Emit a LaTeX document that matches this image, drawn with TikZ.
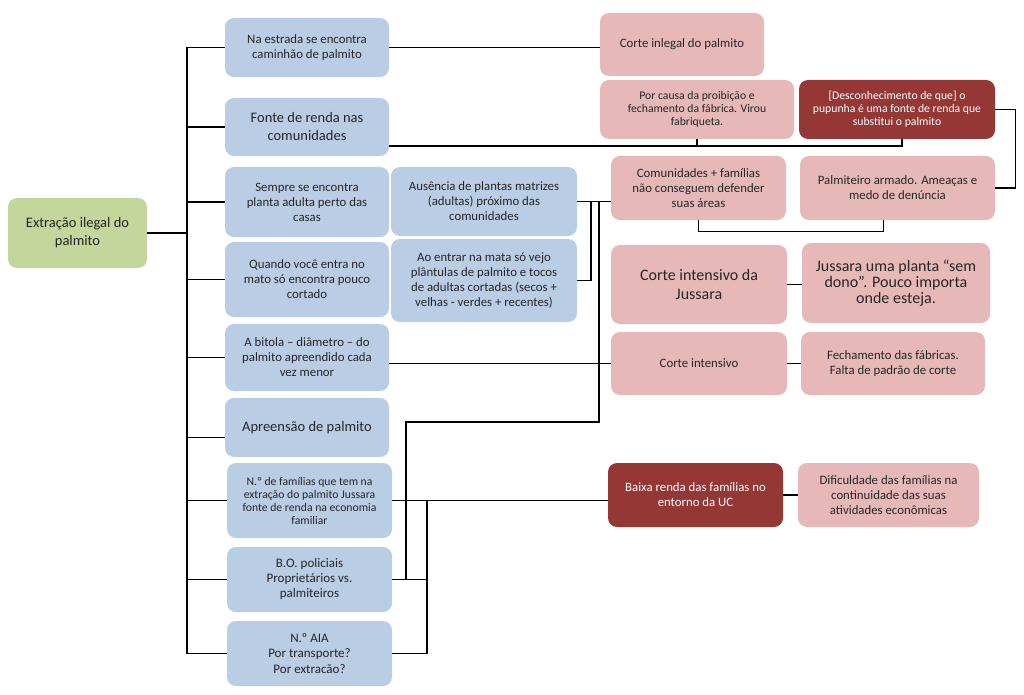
\documentclass[tikz,border=0pt]{standalone}
\usepackage{fontspec}
\setmainfont{Carlito}
\usetikzlibrary{positioning}
\definecolor{cmblue}{RGB}{185,205,229}
\definecolor{cmpink}{RGB}{230,185,184}
\definecolor{cmdark}{RGB}{149,55,53}
\definecolor{cmgreen}{RGB}{195,214,155}
\definecolor{cmtext}{RGB}{38,38,38}
\begin{document}
\begin{tikzpicture}[x=1pt,y=-1pt,
  box/.style={rounded corners=9pt,align=center,inner sep=2pt,text=cmtext,
    font=\fontsize{12.8}{15}\selectfont},
  wh/.style 2 args={minimum width=#1,minimum height=#2},
  bluebox/.style={box,fill=cmblue},
  pinkbox/.style={box,fill=cmpink},
  darkbox/.style={box,fill=cmdark,text=white},
  greenbox/.style={box,fill=cmgreen},
  bigtext/.style={font=\fontsize{14.5}{18}\selectfont},
  smalltext/.style={font=\fontsize{11.7}{13}\selectfont},
  link/.style={line width=1.3pt,black}]
  \useasboundingbox (0,0) rectangle (1024,695);

  \node[greenbox,bigtext,wh={139pt}{70pt}] (main) at (77.5,233) {Extração ilegal do\\palmito};

  \node[bluebox,wh={164pt}{59pt}] (b1) at (307,47.5) {Na estrada se encontra\\caminhão de palmito};
  \node[bluebox,bigtext,wh={164pt}{58pt}] (b2) at (307,127) {Fonte de renda nas\\comunidades};
  \node[bluebox,wh={164pt}{70pt}] (b3) at (307,202) {Sempre se encontra\\planta adulta perto das\\casas};
  \node[bluebox,wh={164pt}{75pt}] (b4) at (307,279.5) {Quando você entra no\\mato só encontra pouco\\cortado};
  \node[bluebox,wh={164pt}{67pt}] (b5) at (307,357.5) {A bitola – diâmetro – do\\palmito apreendido cada\\vez menor};
  \node[bluebox,bigtext,wh={164pt}{59pt}] (b6) at (307,427.5) {Apreensão de palmito};
  \node[bluebox,smalltext,wh={165pt}{75pt}] (b7) at (309.5,500.5) {N.º de famílias que tem na\\extração do palmito Jussara\\fonte de renda na economia\\familiar};
  \node[bluebox,font=\fontsize{13}{15}\selectfont,wh={165pt}{65pt}] (b8) at (309.5,579.5) {B.O. policiais\\Proprietários vs.\\palmiteiros};
  \node[bluebox,font=\fontsize{13}{15.5}\selectfont,wh={165pt}{65pt}] (b9) at (309.5,653.5) {N.º AIA\\Por transporte?\\Por extracão?};

  \node[bluebox,wh={186pt}{69pt}] (c1) at (484,201.5) {Ausência de plantas matrizes\\(adultas) próximo das\\comunidades};
  \node[bluebox,wh={186pt}{83pt}] (c2) at (484,280.5) {Ao entrar na mata só vejo\\plântulas de palmito e tocos\\de adultas cortadas (secos +\\velhas - verdes + recentes)};

  \node[pinkbox,wh={164pt}{63pt}] (r1) at (682,44.5) {Corte inlegal do palmito};
  \node[pinkbox,smalltext,wh={194pt}{59pt}] (r2) at (697,109.5) {Por causa da proibição e\\fechamento da fábrica. Virou\\fabriqueta.};
  \node[darkbox,smalltext,wh={196pt}{59pt}] (r3) at (897,109.5) {[Desconhecimento de que] o\\pupunha é uma fonte de renda que\\substitui o palmito};
  \node[pinkbox,wh={175pt}{64pt}] (r4) at (698.5,188) {Comunidades + famílias\\não conseguem defender\\suas áreas};
  \node[pinkbox,wh={195pt}{64pt}] (r5) at (897.5,188) {Palmiteiro armado. Ameaças e\\medo de denúncia};
  \node[pinkbox,font=\fontsize{16}{19}\selectfont,wh={176pt}{79pt}] (r6) at (699,284.5) {Corte intensivo da\\Jussara};
  \node[pinkbox,font=\fontsize{16}{16}\selectfont,wh={188pt}{80pt}] (r7) at (896,283) {Jussara uma planta “sem\\dono”. Pouco importa\\onde esteja.};
  \node[pinkbox,wh={176pt}{63pt}] (r8) at (699,363.5) {Corte intensivo};
  \node[pinkbox,wh={184pt}{63pt}] (r9) at (893,363.5) {Fechamento das fábricas.\\Falta de padrão de corte};
  \node[darkbox,wh={175pt}{64pt}] (r10) at (695.5,495) {Baixa renda das famílias no\\entorno da UC};
  \node[pinkbox,wh={181pt}{64pt}] (r11) at (888.5,495) {Dificuldade das famílias na\\continuidade das suas\\atividades econômicas};

  \coordinate (trunk) at (187,0);
  \coordinate (v1) at (591,0);
  \coordinate (v2) at (599,0);
  \coordinate (v3) at (406,0);
  \coordinate (v4) at (427,0);
  \coordinate (k1) at (599,422);
  \coordinate (k2) at (406,422);
  \coordinate (fr) at (902,146);

  \draw[link] (trunk |- b1.west) -- (trunk |- b9.west);
  \draw[link] (main.east) -- (main.east -| trunk);
  \foreach \n in {b1,b2,b3,b4,b5,b7,b8,b9}
    \draw[link] (\n.west) -- (\n.west -| trunk);
  \draw[link] ([yshift=-10pt]b6.west) -- ([yshift=-10pt]b6.west -| trunk);

  \draw[link] (b1.east) -- (b1.east -| r1.west);
  \draw[link] ([yshift=-19pt]b2.east) -- (fr) -- (fr |- r3.south);
  \draw[link] (r2.south) -- (r2.south |- fr);
  \draw[link] (r3.east) -- ++(20,0) |- (r5.east);
  \draw[link] (r4.south) -- ++(0,11) -| ([xshift=-14pt]r5.south);

  \draw[link] (c1.east) -- (c1.east -| r4.west);
  \draw[link] (c2.east) -| (v1 |- c1.east);
  \draw[link] (v2 |- c1.east) -- (k1) -- (k2) -- (v3 |- b8.east);
  \draw[link] (b8.east) -- (b8.east -| v4);
  \draw[link] (b9.east) -| (v4 |- b7.east);
  \draw[link] (b7.east) -- (b7.east -| r10.west);
  \draw[link] (r8.west) -- (r8.west -| b5.east);

  \draw[link] (r6.east) -- (r6.east -| r7.west);
  \draw[link] (r8.east) -- (r8.east -| r9.west);
  \draw[link] (r10.east) -- (r10.east -| r11.west);
\end{tikzpicture}
\end{document}
